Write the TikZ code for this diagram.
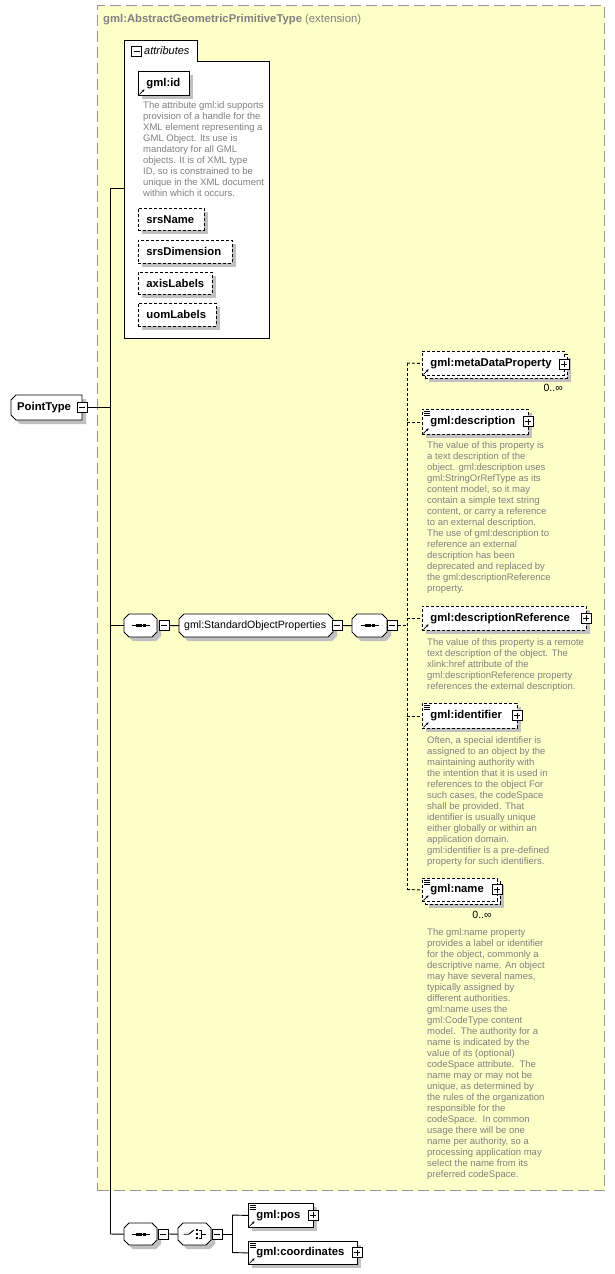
\documentclass[tikz,border=0pt]{standalone}
\usepackage{fontspec}
\setmainfont{Liberation Sans}
\usetikzlibrary{shadows,arrows.meta}
\definecolor{extfill}{RGB}{255,255,200}
\definecolor{descgray}{RGB}{128,128,128}
\definecolor{shadowgray}{RGB}{192,192,192}
\definecolor{extborder}{RGB}{150,150,150}
\tikzset{
  shad/.style={drop shadow={shadow xshift=4pt,shadow yshift=-4pt,fill=shadowgray,opacity=1}},
  lab/.style={font=\fontsize{11.3}{13}\selectfont\bfseries},
  elem/.style={rectangle, draw=black, fill=white, line width=0.9pt, anchor=north west,
    inner ysep=0pt, inner xsep=8pt, align=left, lab},
  optb/.style={dash pattern=on 3pt off 2pt},
  descr/.style={anchor=north west, inner sep=0pt, align=left, text=descgray,
    font=\fontsize{9.5}{11}\selectfont},
  sgnbox/.style={rectangle, draw=black, fill=white, line width=1pt, minimum size=10pt, inner sep=0pt},
  minusbox/.style={sgnbox, path picture={\draw[line width=0.9pt]
    ([xshift=-3pt]path picture bounding box.center) -- ([xshift=3pt]path picture bounding box.center);}},
  plusbox/.style={sgnbox, path picture={\draw[line width=0.9pt]
    ([xshift=-3pt]path picture bounding box.center) -- ([xshift=3pt]path picture bounding box.center)
    ([yshift=-3pt]path picture bounding box.center) -- ([yshift=3pt]path picture bounding box.center);}},
  conn/.style={draw=black, line width=0.9pt},
  oconn/.style={conn, dash pattern=on 3pt off 2pt},
  shapeline/.style={draw=black, fill=white, line width=0.9pt, shad},
  holder/.style={anchor=north west, inner sep=0pt, draw=none},
  mult/.style={inner sep=0pt, font=\fontsize{10.5}{12}\selectfont},
}
\newcommand\refarr[1]{\draw[line width=0.8pt,-{Stealth[length=2.6pt,width=2.8pt]}]
  ([xshift=1.5pt,yshift=1.5pt]#1.south west) -- ([xshift=6.5pt,yshift=6.5pt]#1.south west);}
\newcommand\smark[1]{\foreach \d in {2,4,6}{\draw[line width=0.6pt]
  ([xshift=2pt,yshift=-\d pt]#1.north west) -- ([xshift=8pt,yshift=-\d pt]#1.north west);}}
\newcommand\seqicon[1]{\draw[line width=0.9pt] ([xshift=-9pt]#1.center) -- ([xshift=9pt]#1.center);
  \foreach \s in {-3.5,0,3.5}{\fill ([xshift=\s pt]#1.center) +(-1.3pt,-1.3pt) rectangle +(1.3pt,1.3pt);}}
\newcommand\choiceicon[1]{%
  \draw[line width=0.9pt] ([xshift=-11pt]#1.center) -- ([xshift=-6pt]#1.center) -- ([xshift=-1pt,yshift=4pt]#1.center);
  \foreach \s in {-4,0,4}{\fill ([xshift=2pt,yshift=\s pt]#1.center) +(-1.2pt,-1.2pt) rectangle +(1.2pt,1.2pt);}
  \draw[line width=0.9pt] ([xshift=4pt,yshift=4pt]#1.center) -- ([xshift=7pt,yshift=4pt]#1.center)
    -- ([xshift=7pt,yshift=-4pt]#1.center) -- ([xshift=4pt,yshift=-4pt]#1.center);
  \draw[line width=0.9pt] ([xshift=7pt]#1.center) -- ([xshift=11pt]#1.center);}
\begin{document}
\begin{tikzpicture}[x=1pt,y=-1pt]
\useasboundingbox (0,0) rectangle (614,1274);
% extension box
\node[holder, draw=extborder, fill=extfill, line width=1pt, dash pattern=on 11pt off 5pt,
  minimum width=507pt, minimum height=1185pt] (ext) at (97,5) {};
\node[anchor=west, inner sep=0pt, text=descgray, font=\fontsize{11.3}{13}\selectfont] (hdr) at (103,20)
  {\textbf{gml:AbstractGeometricPrimitiveType} (extension)};

% trunk coordinates
\coordinate (tTop) at (110,188);
\coordinate (tBot) at (110,1234);
\draw[conn] (tTop) -- (tBot);

% attributes container
\path[draw=black, fill=white, line width=0.9pt] (124,338) -- (124,40) -- (197,40) -- (197,61) -- (269,61) -- (269,338) -- cycle;
\node[holder, minimum width=145pt, minimum height=277pt] (attrbody) at (124,61) {};
\node[holder, minimum width=73pt, minimum height=21pt] (attrtab) at (124,40) {};
\node[minusbox] (attrm) at (136.5,51) {};
\node[anchor=west, inner sep=0pt, font=\fontsize{11}{13}\selectfont\itshape] (attrlab) at (144,51) {attributes};
\draw[conn] (tTop) -- (attrbody.west |- tTop);

\node[elem, shad, minimum width=51pt, minimum height=24pt, text width=35pt] (gid) at (138,71) {gml:id};
\refarr{gid}
\node[descr] (giddesc) at (143,101) {The attribute gml:id supports\\provision of a handle for the\\XML element representing a\\GML Object. Its use is\\mandatory for all GML\\objects. It is of XML type\\ID, so is constrained to be\\unique in the XML document\\within which it occurs.};
\node[elem, shad, optb, minimum width=66pt, minimum height=22pt, text width=50pt] (srsn) at (138,208) {srsName};
\node[elem, shad, optb, minimum width=94pt, minimum height=23pt, text width=78pt] (srsd) at (138,240) {srsDimension};
\node[elem, shad, optb, minimum width=74pt, minimum height=22pt, text width=58pt] (axl) at (138,272) {axisLabels};
\node[elem, shad, optb, minimum width=78pt, minimum height=23pt, text width=62pt] (uoml) at (138,303) {uomLabels};

% PointType
\path[shapeline] (16,395) -- (82,395) -- (82,420) -- (16,420) -- (11,415) -- (11,400) -- cycle;
\node[holder, minimum width=71pt, minimum height=25pt, inner xsep=6pt, text width=59pt, align=left, lab] (pt) at (11,395) {PointType};
\node[minusbox] (ptm) at (82,407.5) {};
\draw[conn] (ptm.east) -- (ptm.east -| tTop);

% sequence 1 - group - sequence 2
\path[shapeline] (129,614) -- (152,614) -- (157,619) -- (157,632) -- (152,637) -- (129,637) -- (124,632) -- (124,619) -- cycle;
\node[holder, minimum width=33pt, minimum height=23pt] (seq1) at (124,614) {};
\seqicon{seq1}
\node[minusbox] (seq1m) at (164,625.5) {};
\draw[conn] (tTop |- seq1.west) -- (seq1.west);

\path[shapeline] (184,614) -- (328,614) -- (333,619) -- (333,632) -- (328,637) -- (184,637) -- (179,632) -- (179,619) -- cycle;
\node[holder, minimum width=154pt, minimum height=23pt, inner xsep=5pt, text width=144pt, align=left,
  font=\fontsize{10.6}{12}\selectfont] (sop) at (179,614) {gml:StandardObjectProperties};
\node[minusbox] (sopm) at (337,625.5) {};
\draw[conn] (seq1m.east) -- (sop.west);

\path[shapeline] (357,614) -- (382,614) -- (387,619) -- (387,632) -- (382,637) -- (357,637) -- (352,632) -- (352,619) -- cycle;
\node[holder, minimum width=35pt, minimum height=23pt] (seq2) at (352,614) {};
\seqicon{seq2}
\node[minusbox] (seq2m) at (392,625.5) {};
\draw[conn] (sopm.east) -- (seq2.west);

% optional branches
\coordinate (vTop) at (407,363);
\coordinate (vBot) at (407,889.5);
\draw[oconn] (seq2m.east) -- (seq2m.east -| vTop);
\draw[oconn] (vTop) -- (vBot);

% metaDataProperty (multiple)
\node[elem, shad, optb, minimum width=142pt, minimum height=24pt] (mdpback) at (425,354) {};
\node[elem, optb, minimum width=142pt, minimum height=24pt, text width=126pt] (mdp) at (422,351) {gml:metaDataProperty};
\refarr{mdp}
\node[plusbox] (mdpp) at (564,364) {};
\node[mult, anchor=east] (mdpmult) at (563,388) {0..∞};
\draw[oconn] (vTop) -- (mdp.west);

% description
\node[elem, shad, optb, minimum width=106pt, minimum height=25pt, text width=90pt] (desc) at (422,409) {gml:description};
\smark{desc}\refarr{desc}
\node[plusbox] (descp) at (528,421.5) {};
\draw[oconn] (vTop |- desc.west) -- (desc.west);
\node[descr] (descdesc) at (427,441) {The value of this property is\\a text description of the\\object. gml:description uses\\gml:StringOrRefType as its\\content model, so it may\\contain a simple text string\\content, or carry a reference\\to an external description.\\The use of gml:description to\\reference an external\\description has been\\deprecated and replaced by\\the gml:descriptionReference\\property.};

% descriptionReference
\node[elem, shad, optb, minimum width=164pt, minimum height=24pt, text width=148pt] (dref) at (422,606) {gml:descriptionReference};
\refarr{dref}
\node[plusbox] (drefp) at (586,618) {};
\draw[oconn] (vTop |- dref.west) -- (dref.west);
\node[descr] (drefdesc) at (427,638) {The value of this property is a remote\\text description of the object. The\\xlink:href attribute of the\\gml:descriptionReference property\\references the external description.};

% identifier
\node[elem, shad, optb, minimum width=95pt, minimum height=25pt, text width=79pt] (ident) at (422,703) {gml:identifier};
\smark{ident}\refarr{ident}
\node[plusbox] (identp) at (517,715.5) {};
\draw[oconn] (vTop |- ident.west) -- (ident.west);
\node[descr] (identdesc) at (427,736) {Often, a special identifier is\\assigned to an object by the\\maintaining authority with\\the intention that it is used in\\references to the object For\\such cases, the codeSpace\\shall be provided. That\\identifier is usually unique\\either globally or within an\\application domain.\\gml:identifier is a pre-defined\\property for such identifiers.};

% name (multiple)
\node[elem, shad, optb, minimum width=75pt, minimum height=23pt] (nameback) at (425,881) {};
\node[elem, optb, minimum width=75pt, minimum height=23pt, text width=59pt] (name) at (422,878) {gml:name};
\smark{name}\refarr{name}
\node[plusbox] (namep) at (497,889.5) {};
\node[mult] (namemult) at (482,915) {0..∞};
\draw[oconn] (vBot) -- (name.west);
\node[descr] (namedesc) at (427,928) {The gml:name property\\provides a label or identifier\\for the object, commonly a\\descriptive name. An object\\may have several names,\\typically assigned by\\different authorities.\\gml:name uses the\\gml:CodeType content\\model.\ \ The authority for a\\name is indicated by the\\value of its (optional)\\codeSpace attribute.\ \ The\\name may or may not be\\unique, as determined by\\the rules of the organization\\responsible for the\\codeSpace.\ \ In common\\usage there will be one\\name per authority, so a\\processing application may\\select the name from its\\preferred codeSpace.};

% bottom: sequence + choice
\path[shapeline] (129,1223) -- (152,1223) -- (157,1228) -- (157,1240) -- (152,1245) -- (129,1245) -- (124,1240) -- (124,1228) -- cycle;
\node[holder, minimum width=33pt, minimum height=22pt] (seq3) at (124,1223) {};
\seqicon{seq3}
\node[minusbox] (seq3m) at (163,1234) {};
\draw[conn] (tBot) -- (seq3.west);

\path[shapeline] (183,1223) -- (206,1223) -- (211,1228) -- (211,1240) -- (206,1245) -- (183,1245) -- (178,1240) -- (178,1228) -- cycle;
\node[holder, minimum width=33pt, minimum height=22pt] (ch) at (178,1223) {};
\choiceicon{ch}
\node[minusbox] (chm) at (217,1234) {};
\draw[conn] (seq3m.east) -- (ch.west);

\coordinate (cJ) at (232,1234);
\coordinate (cTop) at (232,1215);
\coordinate (cBot) at (232,1252.5);
\draw[conn] (chm.east) -- (cJ);
\draw[conn] (cTop) -- (cBot);

\node[elem, shad, minimum width=65pt, minimum height=24pt, text width=49pt] (pos) at (248,1203) {gml:pos};
\smark{pos}\refarr{pos}
\node[plusbox] (posp) at (313,1215) {};
\draw[conn] (cTop) -- (pos.west);

\node[elem, shad, minimum width=109pt, minimum height=23pt, text width=93pt] (coords) at (248,1241) {gml:coordinates};
\smark{coords}\refarr{coords}
\node[plusbox] (coordsp) at (357,1252.5) {};
\draw[conn] (cBot) -- (coords.west);
\end{tikzpicture}
\end{document}
